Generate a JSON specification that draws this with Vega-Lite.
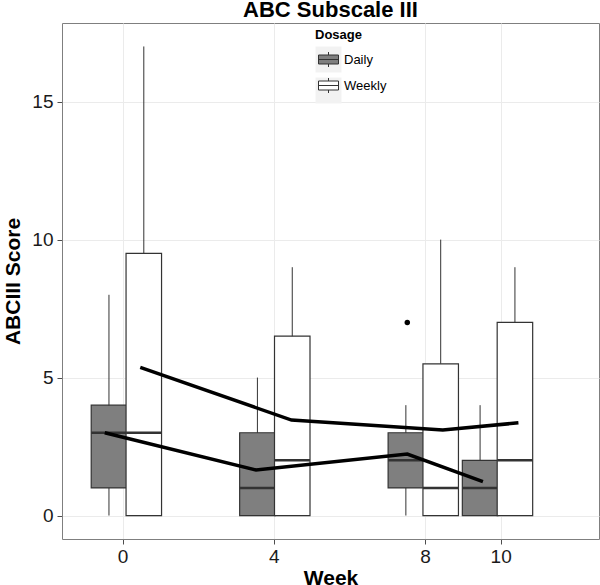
{
  "$schema": "https://vega.github.io/schema/vega-lite/v6.json",
  "width": 537,
  "height": 516,
  "autosize": {"type": "none"},
  "padding": {"left": 62, "top": 23, "right": 1, "bottom": 46},
  "title": {"text": "ABC Subscale III", "fontSize": 22, "fontWeight": "bold", "font": "Liberation Sans", "color": "black", "anchor": "middle", "offset": 1},
  "config": {
    "font": "Liberation Sans",
    "view": {"stroke": "#7f7f7f", "strokeWidth": 1},
    "axis": {"labelFont": "Liberation Sans", "labelFontSize": 19, "labelColor": "#1a1a1a", "titleFont": "Liberation Sans", "titleFontSize": 21, "titleFontWeight": "bold", "titleColor": "black", "tickColor": "#4d4d4d", "tickSize": 5, "domain": false, "gridColor": "#ebebeb", "gridWidth": 1},
    "legend": {"titleFont": "Liberation Sans", "labelFont": "Liberation Sans"}
  },
  "datasets": {
    "boxes": [
      {"week": 0, "dosage": "Daily", "lo": 0, "q1": 1, "med": 3, "q3": 4, "hi": 8},
      {"week": 0, "dosage": "Weekly", "lo": 0, "q1": 0, "med": 3, "q3": 9.5, "hi": 17},
      {"week": 4, "dosage": "Daily", "lo": 0, "q1": 0, "med": 1, "q3": 3, "hi": 5},
      {"week": 4, "dosage": "Weekly", "lo": 0, "q1": 0, "med": 2, "q3": 6.5, "hi": 9},
      {"week": 8, "dosage": "Daily", "lo": 0, "q1": 1, "med": 2, "q3": 3, "hi": 4},
      {"week": 8, "dosage": "Weekly", "lo": 0, "q1": 0, "med": 1, "q3": 5.5, "hi": 10},
      {"week": 10, "dosage": "Daily", "lo": 0, "q1": 0, "med": 1, "q3": 2, "hi": 4},
      {"week": 10, "dosage": "Weekly", "lo": 0, "q1": 0, "med": 2, "q3": 7, "hi": 9}
    ],
    "means": [
      {"week": 0, "dosage": "Daily", "mean": 3.0},
      {"week": 4, "dosage": "Daily", "mean": 1.65},
      {"week": 8, "dosage": "Daily", "mean": 2.23},
      {"week": 10, "dosage": "Daily", "mean": 1.23},
      {"week": 0, "dosage": "Weekly", "mean": 5.37},
      {"week": 4, "dosage": "Weekly", "mean": 3.46},
      {"week": 8, "dosage": "Weekly", "mean": 3.1},
      {"week": 10, "dosage": "Weekly", "mean": 3.36}
    ],
    "outliers": [
      {"week": 8, "dosage": "Daily", "value": 7}
    ]
  },
  "resolve": {"scale": {"x": "independent"}},
  "layer": [
    {
      "data": {"name": "boxes"},
      "mark": {"type": "point", "filled": true, "color": "#f2f2f2", "stroke": "#cccccc", "strokeWidth": 1, "opacity": 0},
      "encoding": {
        "x": {"field": "week", "type": "quantitative", "scale": {"domain": [-1.6, 12.6], "nice": false, "zero": false},
              "axis": {"values": [0, 4, 8, 10], "format": "d", "labelPadding": 3, "titlePadding": 1, "grid": true}, "title": "Week"},
        "y": {"field": "med", "type": "quantitative", "scale": {"domain": [-0.85, 17.85], "nice": false, "zero": false},
              "axis": {"values": [0, 5, 10, 15], "labelPadding": 4, "titlePadding": 8, "grid": true}, "title": "ABCIII Score"},
        "shape": {"field": "dosage", "type": "nominal", "scale": {"range": ["square", "square"]},
                  "legend": {"title": "Dosage ", "orient": "none", "legendX": 253, "legendY": 6, "padding": 0, "zindex": 0,
                             "titleFontSize": 13, "titleFontWeight": "bold", "titleColor": "black", "titlePadding": 4,
                             "labelFontSize": 13, "labelExpr": "''", "labelOffset": 0,
                             "symbolSize": 676, "symbolFillColor": "#f2f2f2", "symbolStrokeColor": "#cccccc", "symbolStrokeWidth": 1, "symbolOpacity": 1, "rowPadding": 0,
                             "encode": {"symbols": {"update": {"fill": {"value": "#f2f2f2"}, "stroke": {"value": "#c8c8c8"}, "strokeWidth": {"value": 1}, "opacity": {"value": 1}}}}}}
      }
    },
    {
      "data": {"name": "boxes"},
      "transform": [{"filter": {"field": "dosage", "equal": "Daily"}}],
      "encoding": {
        "x": {"field": "week", "type": "quantitative", "scale": {"domain": [-1.1306, 13.0694], "nice": false, "zero": false}, "axis": null}
      },
      "layer": [
        {
          "mark": {"type": "rule", "color": "#333333", "strokeWidth": 1},
          "encoding": {"y": {"field": "lo", "type": "quantitative"}, "y2": {"field": "hi"}}
        },
        {
          "mark": {"type": "bar", "width": 35.5, "stroke": "#333333", "strokeWidth": 1.2},
          "encoding": {
            "y": {"field": "q1", "type": "quantitative"},
            "y2": {"field": "q3"},
            "fill": {"field": "dosage", "type": "nominal", "scale": {"domain": ["Daily", "Weekly"], "range": ["#7f7f7f", "#ffffff"]},
                     "legend": {"title": null, "orient": "none", "legendX": 256, "legendY": 26, "padding": 0, "zindex": 1,
                                "labelFontSize": 13, "labelColor": "black", "labelOffset": 5,
                                "symbolType": "M-1,-0.45H1V0.45H-1Z M-1,0H1 M0,-0.45V-0.75 M0,0.45V0.75",
                                "symbolSize": 400, "symbolStrokeColor": "#333333", "symbolStrokeWidth": 1, "rowPadding": 6}}
          }
        },
        {
          "mark": {"type": "tick", "orient": "horizontal", "size": 35.5, "thickness": 2.5, "color": "#333333", "opacity": 1},
          "encoding": {"y": {"field": "med", "type": "quantitative"}}
        }
      ]
    },
    {
      "data": {"name": "boxes"},
      "transform": [{"filter": {"field": "dosage", "equal": "Weekly"}}],
      "encoding": {
        "x": {"field": "week", "type": "quantitative", "scale": {"domain": [-2.0694, 12.1306], "nice": false, "zero": false}, "axis": null}
      },
      "layer": [
        {
          "mark": {"type": "rule", "color": "#333333", "strokeWidth": 1},
          "encoding": {"y": {"field": "lo", "type": "quantitative"}, "y2": {"field": "hi"}}
        },
        {
          "mark": {"type": "bar", "width": 35.5, "stroke": "#333333", "strokeWidth": 1.2},
          "encoding": {
            "y": {"field": "q1", "type": "quantitative"},
            "y2": {"field": "q3"},
            "fill": {"field": "dosage", "type": "nominal", "scale": {"domain": ["Daily", "Weekly"], "range": ["#7f7f7f", "#ffffff"]},
                     "legend": {"title": null, "orient": "none", "legendX": 256, "legendY": 26, "padding": 0, "zindex": 1,
                                "labelFontSize": 13, "labelColor": "black", "labelOffset": 5,
                                "symbolType": "M-1,-0.45H1V0.45H-1Z M-1,0H1 M0,-0.45V-0.75 M0,0.45V0.75",
                                "symbolSize": 400, "symbolStrokeColor": "#333333", "symbolStrokeWidth": 1, "rowPadding": 6}}
          }
        },
        {
          "mark": {"type": "tick", "orient": "horizontal", "size": 35.5, "thickness": 2.5, "color": "#333333", "opacity": 1},
          "encoding": {"y": {"field": "med", "type": "quantitative"}}
        }
      ]
    },
    {
      "data": {"name": "outliers"},
      "mark": {"type": "point", "filled": true, "color": "black", "size": 30, "opacity": 1},
      "encoding": {
        "x": {"field": "week", "type": "quantitative", "scale": {"domain": [-1.1306, 13.0694], "nice": false, "zero": false}, "axis": null},
        "y": {"field": "value", "type": "quantitative"}
      }
    },
    {
      "data": {"name": "means"},
      "transform": [{"filter": {"field": "dosage", "equal": "Daily"}}],
      "mark": {"type": "line", "color": "black", "strokeWidth": 3.5},
      "encoding": {
        "x": {"field": "week", "type": "quantitative", "scale": {"domain": [-1.1306, 13.0694], "nice": false, "zero": false}, "axis": null},
        "y": {"field": "mean", "type": "quantitative"}
      }
    },
    {
      "data": {"name": "means"},
      "transform": [{"filter": {"field": "dosage", "equal": "Weekly"}}],
      "mark": {"type": "line", "color": "black", "strokeWidth": 3.5},
      "encoding": {
        "x": {"field": "week", "type": "quantitative", "scale": {"domain": [-2.0694, 12.1306], "nice": false, "zero": false}, "axis": null},
        "y": {"field": "mean", "type": "quantitative"}
      }
    }
  ]
}
